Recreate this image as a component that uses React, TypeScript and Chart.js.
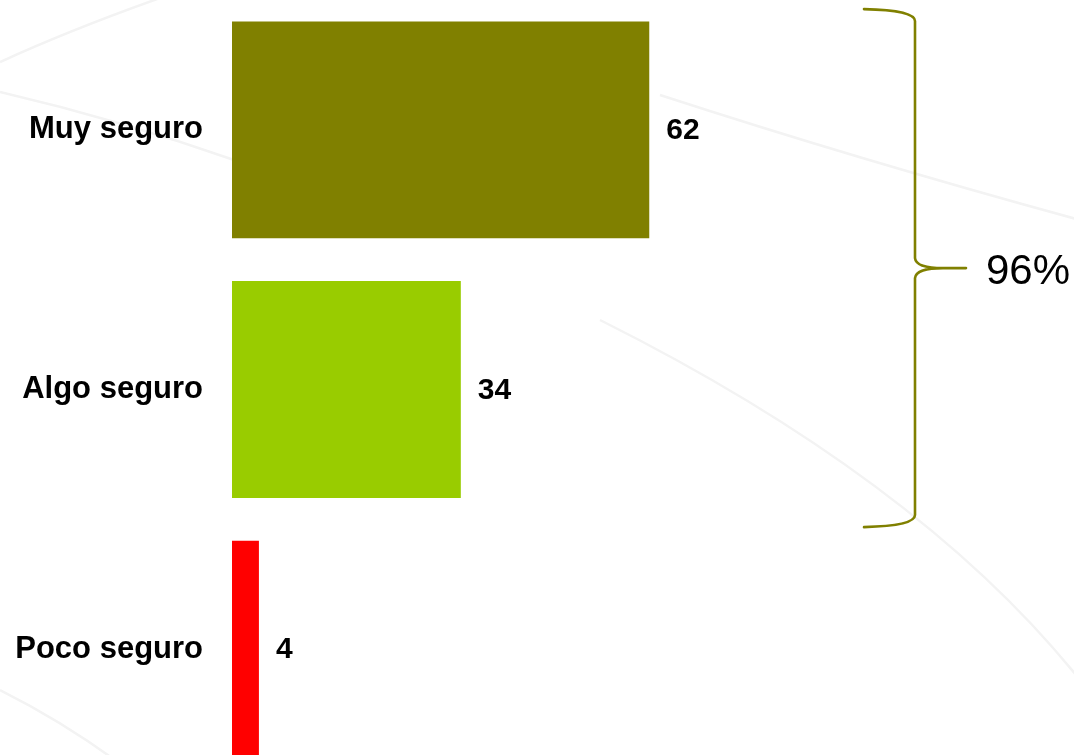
import React, { useEffect, useRef } from "react";
import { Chart, registerables } from "chart.js";

Chart.register(...registerables);

const categories = ["Muy seguro", "Algo seguro", "Poco seguro"];
const values = [62, 34, 4];
const barColors = ["#808000", "#99CC00", "#FF0000"];
const totalLabel = "96%";
const xMax = 100;

const FONT = "'Liberation Sans', Arial, Helvetica, sans-serif";

const backgroundPlugin = {
  id: "bgCurves",
  beforeDraw(chart: any) {
    const ctx = chart.ctx;
    ctx.save();
    ctx.strokeStyle = "#f3f3f3";
    ctx.lineWidth = 2.5;
    ctx.beginPath();
    ctx.moveTo(0, 62);
    ctx.quadraticCurveTo(70, 30, 160, -2);
    ctx.moveTo(0, 92);
    ctx.quadraticCurveTo(120, 120, 240, 162);
    ctx.moveTo(660, 95);
    ctx.quadraticCurveTo(860, 160, 1080, 220);
    ctx.moveTo(600, 320);
    ctx.quadraticCurveTo(920, 480, 1080, 680);
    ctx.moveTo(0, 690);
    ctx.quadraticCurveTo(60, 720, 115, 760);
    ctx.stroke();
    ctx.restore();
  },
};

const labelsPlugin = {
  id: "valueLabels",
  afterDatasetsDraw(chart: any) {
    const ctx = chart.ctx;
    const meta = chart.getDatasetMeta(0);
    ctx.save();
    ctx.fillStyle = "#000";
    ctx.font = `bold 30px ${FONT}`;
    ctx.textAlign = "left";
    ctx.textBaseline = "middle";
    meta.data.forEach((bar: any, i: number) => {
      ctx.fillText(String(values[i]), bar.x + 17, bar.y + 1);
    });

    // brace grouping first two categories
    const yScale = chart.scales.y;
    const area = chart.chartArea;
    const y0 = yScale.getPixelForValue(0);
    const y1 = yScale.getPixelForValue(1);
    const step = y1 - y0;
    const top = y0 - 0.465 * step;
    const bottom = y1 + 0.53 * step;
    const mid = (top + bottom) / 2;
    const xv = area.right + 10;
    const xl = area.right - 41;
    const xt = area.right + 61;
    ctx.strokeStyle = "#808000";
    ctx.lineWidth = 2.6;
    ctx.lineCap = "round";
    ctx.beginPath();
    ctx.moveTo(xl, top);
    ctx.quadraticCurveTo(xv, top + 1, xv, top + 12);
    ctx.lineTo(xv, mid - 10);
    ctx.quadraticCurveTo(xv + 1, mid, xv + 28, mid);
    ctx.lineTo(xt, mid);
    ctx.moveTo(xv + 28, mid);
    ctx.quadraticCurveTo(xv + 1, mid, xv, mid + 10);
    ctx.lineTo(xv, bottom - 12);
    ctx.quadraticCurveTo(xv, bottom - 1, xl, bottom);
    ctx.stroke();

    ctx.fillStyle = "#000";
    ctx.font = `42px ${FONT}`;
    ctx.textAlign = "left";
    ctx.textBaseline = "alphabetic";
    ctx.fillText(totalLabel, xt + 20, mid + 16);
    ctx.restore();
  },
};

export default function App() {
  const ref = useRef<HTMLCanvasElement | null>(null);

  useEffect(() => {
    if (!ref.current) return;
    const chart = new Chart(ref.current, {
      type: "bar",
      data: {
        labels: categories,
        datasets: [
          {
            data: values,
            backgroundColor: barColors,
            borderWidth: 0,
            barPercentage: 0.835,
            categoryPercentage: 1,
          },
        ],
      },
      options: {
        indexAxis: "y",
        animation: false,
        responsive: false,
        maintainAspectRatio: false,
        layout: { padding: { left: 0, right: 169, top: 0, bottom: 0 } },
        plugins: {
          legend: { display: false },
          tooltip: { enabled: false },
          title: { display: false },
        },
        scales: {
          x: {
            display: false,
            min: 0,
            max: xMax,
          },
          y: {
            type: "category",
            grid: { display: false, drawTicks: false },
            border: { display: false },
            ticks: {
              color: "#000",
              padding: 29,
              font: { family: FONT, size: 31, weight: "bold" },
            },
            afterFit: (axis: any) => {
              axis.width = 232;
              axis.paddingTop = 0;
              axis.paddingBottom = 0;
            },
          },
        },
      },
      plugins: [backgroundPlugin, labelsPlugin],
    });
    return () => chart.destroy();
  }, []);

  return (
    <div
      style={{
        position: "fixed",
        left: 0,
        top: 0,
        width: 1074,
        height: 755,
        overflow: "hidden",
        background: "#fff",
      }}
    >
      <canvas
        ref={ref}
        width={1074}
        height={779}
        style={{ display: "block", width: 1074, height: 779 }}
      />
    </div>
  );
}
